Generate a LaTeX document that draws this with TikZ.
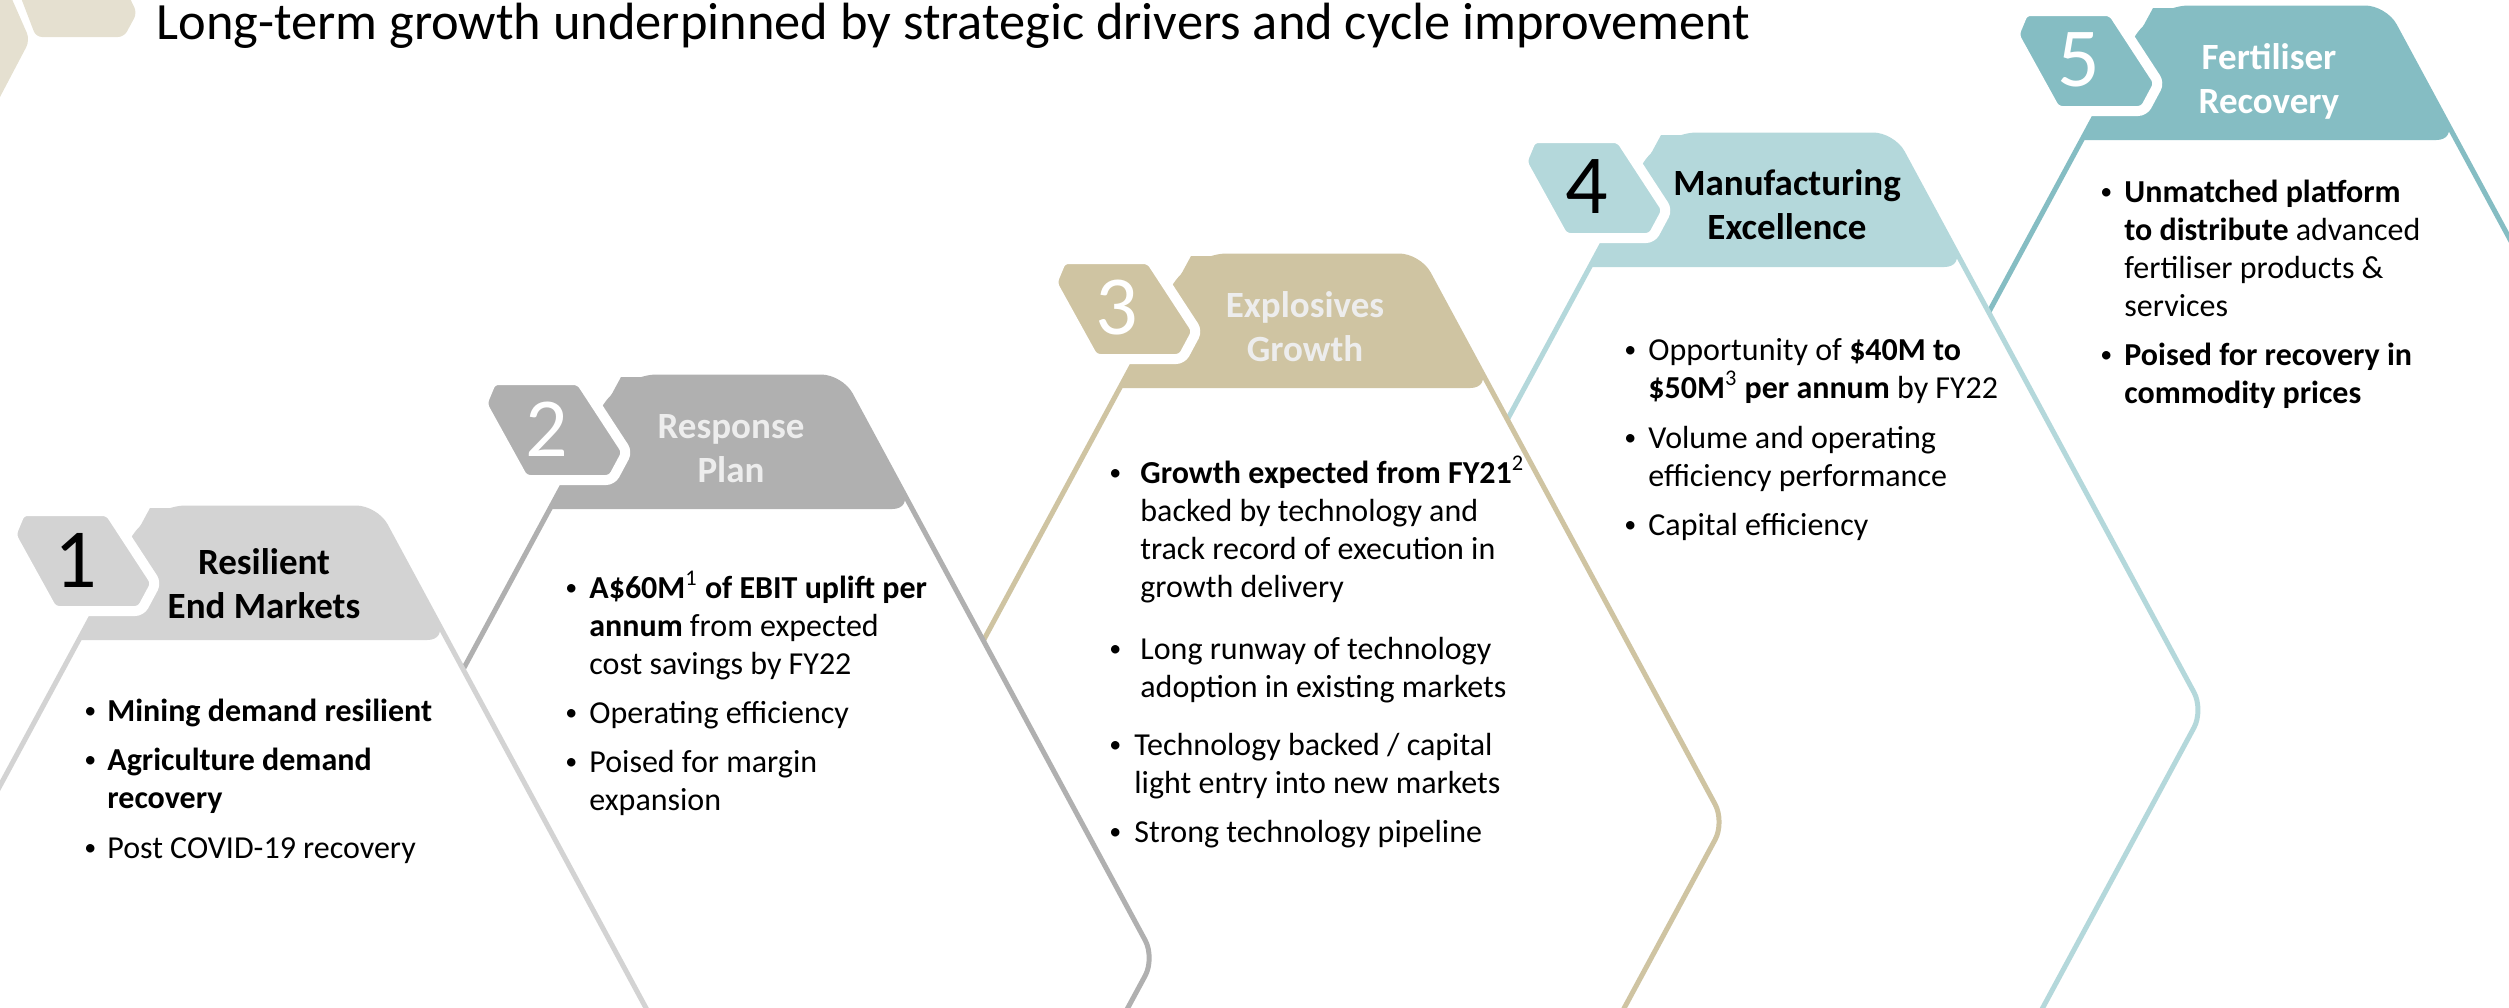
\documentclass[tikz,border=0pt]{standalone}
\usepackage{fontspec}
\setmainfont{Carlito}
\usetikzlibrary{calc}
\definecolor{beige}{HTML}{E5E0D0}
\definecolor{greyA}{HTML}{D3D3D3}
\definecolor{greyB}{HTML}{B0B0B0}
\definecolor{sand}{HTML}{CFC4A2}
\definecolor{tealA}{HTML}{B4D8DB}
\definecolor{tealB}{HTML}{85BDC3}
\definecolor{paleText}{HTML}{EDEDED}
\newcommand{\bulpar}[2]{\parbox[t]{230pt}{\hangindent=#1\hangafter=1\noindent
  \makebox[#1][l]{\raisebox{1.4pt}{\fontsize{12}{12}\selectfont\textbullet}}#2}}
\tikzset{
   hexline/.style={line width=2.5pt, fill=white},
   badgebox/.style={line width=5pt, draw=white, rounded corners=3pt},
   headtext/.style={anchor=base, inner sep=0pt, font=\fontsize{18.5}{22}\selectfont\bfseries},
   numtext/.style={inner sep=0pt, font=\fontsize{42}{42}\selectfont},
   bullets/.style={anchor=base west, inner sep=0pt, font=\fontsize{16}{19}\selectfont}
}

\begin{document}
\begin{tikzpicture}[x=0.5pt, y=-0.5pt]
\useasboundingbox (0,0) rectangle (2509,1007);
\clip (0,0) rectangle (2509,1007);

% corner decoration
\fill[beige, rounded corners=3pt] (18,-10) -- (126,-10) -- (137,13) -- (124,37) -- (36,37) -- cycle;
\fill[beige, rounded corners=4pt] (-10,-10) -- (8,-10) -- (30,40) -- (-10,116) -- cycle;
\node[anchor=base west, inner sep=0pt, font=\fontsize{26.2}{30}\selectfont] (title) at (156,39)
  {Long-term growth underpinned by strategic drivers and cycle improvement};

% hexagons, back to front
\foreach \i/\cx/\ty/\hw/\vd/\col/\tcol/\ncol/\dx/\hy/\head in {
   5/2269/8/116/800/tealB/white/white/0/61/{Fertiliser\\Recovery},
   4/1777/135/116/575/tealA/black/black/10/60/{Manufacturing\\Excellence},
   3/1305/256/114/566/sand/paleText/white/0/61/{Explosives\\Growth},
   2/731/377/110/581/greyB/paleText/white/0/61/{Response\\Plan},
   1/263/508/113/575/greyA/black/black/1/66/{Resilient\\End Markets}}
{
\begin{scope}[shift={(\cx,\ty)}]
  \draw[hexline, draw=\col] (\hw,{2*\vd}) [rounded corners=18pt] -- (-\hw,{2*\vd}) -- ({-\hw-0.54*\vd},\vd)
     -- (-\hw,0) [rounded corners=10pt] -- (\hw,0) -- ({\hw+0.54*\vd},\vd) [rounded corners=18pt] -- cycle;
  \fill[\col] ({-\hw-71.3},132) -- (-\hw,0) [rounded corners=10pt] -- (\hw,0) -- ({\hw+71.3},132) [sharp corners] -- cycle;
  \filldraw[badgebox, fill=\col] ({-\hw-129},3) -- ++(88,0) -- ++(47,72) -- ++(-15,28) -- ++(-88,0) -- ++(-42,-76) -- cycle;
  \node[numtext, text=\ncol] (num\i) at ({-\hw-74},52) {\i};
  \node[headtext, text=\tcol] (head\i) at (\dx,\hy) {\parbox[t]{180pt}{\centering\head}};
\end{scope}
}

% bullet text
\node[bullets] (res1) at (84,721) {\bulpar{11.5pt}{\textbf{Mining demand resilient}}};
\node[bullets] (res2) at (84,770) {\bulpar{11.5pt}{\textbf{Agriculture demand\newline recovery}}};
\node[bullets] (res3) at (84,858) {\bulpar{11.5pt}{Post COVID-19 recovery}};

\node[bullets] (plan1) at (565,598) {\bulpar{12pt}{\textbf{A\$60M}\textsuperscript{\mdseries 1} \textbf{of EBIT uplift per\newline annum} from expected\newline cost savings by FY22}};
\node[bullets] (plan2) at (565,723) {\bulpar{12pt}{Operating efficiency}};
\node[bullets] (plan3) at (565,772) {\bulpar{12pt}{Poised for margin\newline expansion}};

\node[bullets] (expl1) at (1109,483) {\bulpar{15.5pt}{\textbf{Growth expected from FY21}\textsuperscript{2}\newline backed by technology and\newline track record of execution in\newline growth delivery}};
\node[bullets] (expl2) at (1109,659) {\bulpar{15.5pt}{Long runway of technology\newline adoption in existing markets}};
\node[bullets] (expl3) at (1109,755) {\bulpar{12.5pt}{Technology backed / capital\newline light entry into new markets}};
\node[bullets] (expl4) at (1109,842) {\bulpar{12.5pt}{Strong technology pipeline}};

\node[bullets] (manu1) at (1624,360) {\bulpar{12pt}{Opportunity of \textbf{\$40M to\newline \$50M}\textsuperscript{3} \textbf{per annum} by FY22}};
\node[bullets] (manu2) at (1624,448) {\bulpar{12pt}{Volume and operating\newline efficiency performance}};
\node[bullets] (manu3) at (1624,535) {\bulpar{12pt}{Capital efficiency}};

\node[bullets] (fert1) at (2100,202) {\bulpar{12pt}{\textbf{Unmatched platform\newline to distribute} advanced\newline fertiliser products \&\newline services}};
\node[bullets] (fert2) at (2100,365) {\bulpar{12pt}{\textbf{Poised for recovery in\newline commodity prices}}};
\end{tikzpicture}
\end{document}
